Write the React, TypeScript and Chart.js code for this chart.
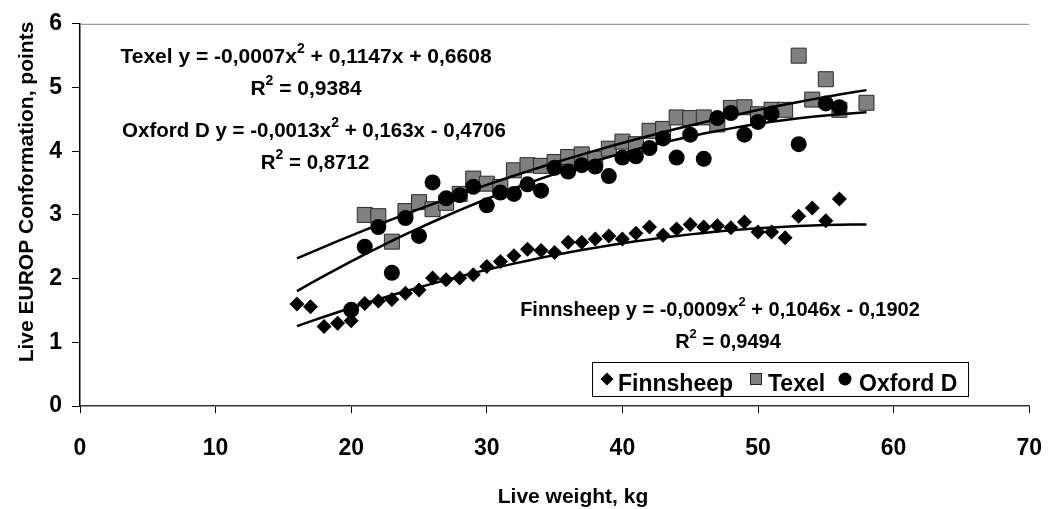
import React, { useEffect, useRef } from "react";
import { Chart, registerables } from "chart.js";

Chart.register(...registerables);

// ---------- data ----------
const finnX = [16, 17, 18, 19, 20, 21, 22, 23, 24, 25, 26, 27, 28, 29, 30, 31, 32, 33, 34, 35, 36, 37, 38, 39, 40, 41, 42, 43, 44, 45, 46, 47, 48, 49, 50, 51, 52, 53, 54, 55, 56];
const finnY = [1.6, 1.56, 1.25, 1.3, 1.34, 1.61, 1.65, 1.67, 1.77, 1.82, 2.01, 1.98, 2.01, 2.06, 2.19, 2.27, 2.36, 2.46, 2.44, 2.41, 2.57, 2.57, 2.62, 2.67, 2.62, 2.71, 2.81, 2.68, 2.78, 2.85, 2.81, 2.83, 2.8, 2.89, 2.73, 2.73, 2.64, 2.98, 3.11, 2.91, 3.25];

const texelX = [21, 22, 23, 24, 25, 26, 27, 28, 29, 30, 31, 32, 33, 34, 35, 36, 37, 38, 39, 40, 41, 42, 43, 44, 45, 46, 47, 48, 49, 50, 51, 52, 53, 54, 55, 56, 58];
const texelY = [3.0, 2.98, 2.58, 3.06, 3.2, 3.09, 3.19, 3.33, 3.57, 3.49, 3.44, 3.7, 3.78, 3.77, 3.83, 3.91, 3.95, 3.88, 4.04, 4.15, 4.11, 4.32, 4.35, 4.53, 4.52, 4.53, 4.42, 4.68, 4.69, 4.58, 4.65, 4.65, 5.5, 4.81, 5.13, 4.65, 4.76];

const oxfordX = [20, 21, 22, 23, 24, 25, 26, 27, 28, 29, 30, 31, 32, 33, 34, 35, 36, 37, 38, 39, 40, 41, 42, 43, 44, 45, 46, 47, 48, 49, 50, 51, 53, 55, 56];
const oxfordY = [1.51, 2.5, 2.81, 2.09, 2.95, 2.67, 3.51, 3.26, 3.31, 3.44, 3.15, 3.35, 3.33, 3.48, 3.38, 3.74, 3.68, 3.78, 3.76, 3.61, 3.9, 3.92, 4.05, 4.2, 3.9, 4.26, 3.88, 4.52, 4.6, 4.26, 4.46, 4.59, 4.11, 4.75, 4.69];

// quadratic trendline coefficients [a, b, c] for y = a x^2 + b x + c (as printed on the chart)
const finnCoef = [-0.0009, 0.1046, -0.1902];
const texelCoef = [-0.0007, 0.1147, 0.6608];
const oxfordCoef = [-0.0013, 0.163, -0.4706];
const trendRange = [16, 58];

const seriesNames = ["Finnsheep", "Texel", "Oxford D"];
const eqMain = ["Finnsheep y = -0,0009x", "Texel y = -0,0007x", "Oxford D y = -0,0013x"];
const eqTail = [" + 0,1046x - 0,1902", " + 0,1147x + 0,6608", " + 0,163x - 0,4706"];
const r2Values = ["0,9494", "0,9384", "0,8712"];

const xTickValues = [0, 10, 20, 30, 40, 50, 60, 70];
const yTickValues = [0, 1, 2, 3, 4, 5, 6];

const xTitle = "Live weight, kg";
const yTitle = "Live EUROP Conformation, points";

// ---------- layout (pixels) ----------
const W = 1064;
const H = 509;
const FONT = '"Liberation Sans", Arial, sans-serif';
const eqPos = [
  { cx: 720, base: 316, r2cx: 728, r2base: 348, size: 20 },
  { cx: 306, base: 63, r2cx: 306, r2base: 95, size: 21 },
  { cx: 314, base: 137, r2cx: 315, r2base: 169, size: 20.5 },
];
const legendBox = { x: 592, y: 362, w: 376, h: 34 };

function pts(xs: number[], ys: number[]) {
  return xs.map((x, i) => ({ x, y: ys[i] }));
}
function trend(coef: number[]) {
  const out: { x: number; y: number }[] = [];
  for (let x = trendRange[0]; x <= trendRange[1]; x += 1) {
    out.push({ x, y: coef[0] * x * x + coef[1] * x + coef[2] });
  }
  return out;
}

function drawSupText(ctx: CanvasRenderingContext2D, main: string, sup: string, tail: string, cx: number, base: number, size: number) {
  const mainFont = `bold ${size}px ${FONT}`;
  const supFont = `bold ${Math.round(size * 0.66)}px ${FONT}`;
  ctx.font = mainFont;
  const w1 = ctx.measureText(main).width;
  const w3 = ctx.measureText(tail).width;
  ctx.font = supFont;
  const w2 = ctx.measureText(sup).width;
  const total = w1 + w2 + w3;
  let x = cx - total / 2;
  ctx.textAlign = "left";
  ctx.textBaseline = "alphabetic";
  ctx.fillStyle = "#000";
  ctx.font = mainFont;
  ctx.fillText(main, x, base);
  x += w1;
  ctx.font = supFont;
  ctx.fillText(sup, x, base - size * 0.5);
  x += w2;
  ctx.font = mainFont;
  ctx.fillText(tail, x, base);
}

const overlayPlugin = {
  id: "overlay",
  afterDraw(chart: any) {
    const ctx: CanvasRenderingContext2D = chart.ctx;
    const area = chart.chartArea;
    ctx.save();
    // top border of plot area
    ctx.strokeStyle = "#808080";
    ctx.lineWidth = 1;
    ctx.beginPath();
    ctx.moveTo(area.left, area.top + 0.5);
    ctx.lineTo(area.right, area.top + 0.5);
    ctx.stroke();

    // equations
    for (let i = 0; i < 3; i++) {
      const p = eqPos[i];
      drawSupText(ctx, eqMain[i], "2", eqTail[i], p.cx, p.base, p.size);
      drawSupText(ctx, "R", "2", " = " + r2Values[i], p.r2cx, p.r2base, p.size);
    }

    // axis titles
    ctx.fillStyle = "#000";
    ctx.font = `bold 21px ${FONT}`;
    ctx.textAlign = "center";
    ctx.textBaseline = "alphabetic";
    ctx.fillText(xTitle, 573, 503);
    ctx.save();
    ctx.translate(33, 192);
    ctx.rotate(-Math.PI / 2);
    ctx.fillText(yTitle, 0, 0);
    ctx.restore();

    // legend
    const lb = legendBox;
    ctx.fillStyle = "#fff";
    ctx.fillRect(lb.x, lb.y, lb.w, lb.h);
    ctx.strokeStyle = "#000";
    ctx.lineWidth = 1;
    ctx.strokeRect(lb.x + 0.5, lb.y + 0.5, lb.w, lb.h);
    const cy = 379;
    // diamond
    ctx.fillStyle = "#000";
    ctx.beginPath();
    ctx.moveTo(607 - 6.5, cy);
    ctx.lineTo(607, cy - 6.5);
    ctx.lineTo(607 + 6.5, cy);
    ctx.lineTo(607, cy + 6.5);
    ctx.closePath();
    ctx.fill();
    // square
    ctx.fillStyle = "#808080";
    ctx.fillRect(750, cy - 6, 12, 12);
    ctx.strokeStyle = "#222";
    ctx.strokeRect(750.5, cy - 5.5, 11, 11);
    // circle
    ctx.fillStyle = "#000";
    ctx.beginPath();
    ctx.arc(845, cy, 6.5, 0, Math.PI * 2);
    ctx.fill();
    ctx.font = `bold 23px ${FONT}`;
    ctx.textAlign = "left";
    ctx.fillText(seriesNames[0], 618, 391);
    ctx.fillText(seriesNames[1], 768, 391);
    ctx.fillText(seriesNames[2], 859, 391);
    ctx.restore();
  },
};

export default function App() {
  const ref = useRef<HTMLCanvasElement | null>(null);
  useEffect(() => {
    if (!ref.current) return;
    const lineCommon = {
      type: "line" as const,
      showLine: true,
      pointRadius: 0,
      borderColor: "#000",
      borderWidth: 2.5,
      fill: false,
      tension: 0,
      order: 0,
    };
    const chart = new Chart(ref.current, {
      type: "scatter",
      data: {
        datasets: [
          { ...lineCommon, label: "Finnsheep trend", data: trend(finnCoef) },
          { ...lineCommon, label: "Texel trend", data: trend(texelCoef) },
          { ...lineCommon, label: "Oxford trend", data: trend(oxfordCoef) },
          {
            label: seriesNames[2],
            data: pts(oxfordX, oxfordY),
            pointStyle: "circle",
            pointRadius: 8,
            backgroundColor: "#000",
            borderColor: "#000",
            borderWidth: 0,
            order: 1,
          },
          {
            label: seriesNames[1],
            data: pts(texelX, texelY),
            pointStyle: "rect",
            pointRadius: 10.6,
            backgroundColor: "#808080",
            borderColor: "#2a2a2a",
            borderWidth: 1,
            order: 2,
          },
          {
            label: seriesNames[0],
            data: pts(finnX, finnY),
            pointStyle: "rectRot",
            pointRadius: 7.5,
            backgroundColor: "#000",
            borderColor: "#000",
            borderWidth: 0,
            order: 3,
          },
        ] as any,
      },
      options: {
        responsive: false,
        animation: false,
        events: [],
        layout: { padding: { left: 0, right: W - 1046, top: 18, bottom: 0 } },
        plugins: { legend: { display: false }, tooltip: { enabled: false } },
        scales: {
          x: {
            type: "linear",
            min: 0,
            max: 70,
            afterBuildTicks: (s: any) => {
              s.ticks = xTickValues.map((v) => ({ value: v }));
            },
            afterFit: (s: any) => {
              s.height = H - 406;
            },
            ticks: {
              color: "#000",
              font: { family: FONT, size: 23, weight: "bold" },
              padding: 22,
              maxRotation: 0,
            },
            grid: { drawOnChartArea: false, drawTicks: true, tickLength: 7, color: "#000", lineWidth: 1 },
            border: { display: true, color: "#333", width: 1.5 },
          },
          y: {
            type: "linear",
            min: 0,
            max: 6,
            afterBuildTicks: (s: any) => {
              s.ticks = yTickValues.map((v) => ({ value: v }));
            },
            afterFit: (s: any) => {
              s.width = 80;
            },
            ticks: {
              color: "#000",
              font: { family: FONT, size: 23, weight: "bold" },
              padding: 10,
            },
            grid: { drawOnChartArea: false, drawTicks: true, tickLength: 8, color: "#000", lineWidth: 1 },
            border: { display: true, color: "#000", width: 1.5 },
          },
        },
      } as any,
      plugins: [overlayPlugin],
    });
    return () => chart.destroy();
  }, []);
  return (
    <div style={{ position: "absolute", left: 0, top: 0, width: W, height: H, background: "#fff" }}>
      <canvas ref={ref} width={W} height={H} style={{ display: "block" }} />
    </div>
  );
}
